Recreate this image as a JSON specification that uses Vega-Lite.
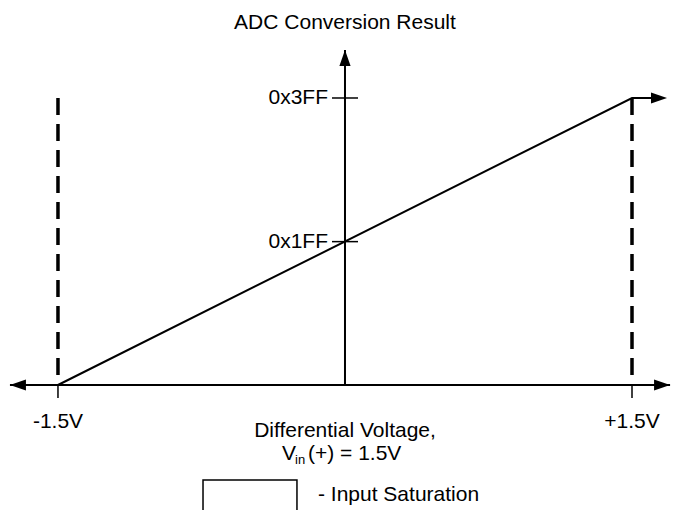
{
  "$schema": "https://vega.github.io/schema/vega-lite/v6.json",
  "width": 674,
  "height": 510,
  "padding": 0,
  "autosize": {"type": "fit", "contains": "padding"},
  "background": "white",
  "config": {"view": {"stroke": null}, "text": {"font": "Liberation Sans", "fontSize": 21, "color": "black"}},
  "datasets": {
    "hAxis": [{"x": -1.751, "x2": 1.699, "y": 0}],
    "vAxis": [{"x": 0, "y": 0, "y2": 1194}],
    "transfer": [{"x": -1.5, "y": 0, "o": 1}, {"x": 1.5, "y": 1023, "o": 2}, {"x": 1.66, "y": 1023, "o": 3}],
    "saturation": [{"x": -1.5, "y": 1023, "y2": 0}, {"x": 1.5, "y": 1023, "y2": 0}],
    "xTicks": [{"x": -1.5, "y": 0, "y2": -46}, {"x": 1.5, "y": 0, "y2": -46}],
    "yTicks": [{"x": -0.068, "x2": 0.068, "y": 1023, "label": "0x3FF"}, {"x": -0.068, "x2": 0.068, "y": 511, "label": "0x1FF"}],
    "arrows": [{"x": -1.751, "y": 0, "dir": "left"}, {"x": 1.699, "y": 0, "dir": "right"}, {"x": 1.683, "y": 1023, "dir": "right"}, {"x": 0, "y": 1194, "dir": "up"}],
    "xLabels": [{"x": -1.5, "y": 0, "label": "-1.5V"}, {"x": 1.5, "y": 0, "label": "+1.5V"}],
    "origin": [{"x": 0, "y": 0}],
    "top": [{"x": 0, "y": 1194}],
    "legendBox": [{"x": -0.742, "x2": -0.251, "y": -338.6, "y2": -480}]
  },
  "encoding": {
    "x": {"field": "x", "type": "quantitative", "scale": {"domain": [-1.803, 1.7195], "nice": false, "zero": false}, "axis": null},
    "y": {"field": "y", "type": "quantitative", "scale": {"domain": [-445.6, 1372.3], "nice": false, "zero": false}, "axis": null}
  },
  "layer": [
    {"data": {"name": "legendBox"}, "mark": {"type": "rect", "fill": "white", "stroke": "black", "strokeWidth": 1.5, "clip": true}, "encoding": {"x2": {"field": "x2"}, "y2": {"field": "y2"}}},
    {"data": {"name": "saturation"}, "mark": {"type": "rule", "color": "black", "strokeWidth": 3.5, "strokeDash": [17, 9]}, "encoding": {"y2": {"field": "y2"}}},
    {"data": {"name": "xTicks"}, "mark": {"type": "rule", "color": "black", "strokeWidth": 1.5}, "encoding": {"y2": {"field": "y2"}}},
    {"data": {"name": "hAxis"}, "mark": {"type": "rule", "color": "black", "strokeWidth": 2}, "encoding": {"x2": {"field": "x2"}}},
    {"data": {"name": "vAxis"}, "mark": {"type": "rule", "color": "black", "strokeWidth": 2}, "encoding": {"y2": {"field": "y2"}}},
    {"data": {"name": "transfer"}, "mark": {"type": "line", "color": "black", "strokeWidth": 2}, "encoding": {"order": {"field": "o"}}},
    {"data": {"name": "yTicks"}, "mark": {"type": "rule", "color": "black", "strokeWidth": 1.5}, "encoding": {"x2": {"field": "x2"}}},
    {"data": {"name": "yTicks"}, "mark": {"type": "text", "align": "right", "baseline": "middle", "dx": -4}, "encoding": {"text": {"field": "label"}}},
    {"data": {"name": "arrows"}, "mark": {"type": "point", "filled": true, "color": "black", "opacity": 1, "size": 256, "strokeWidth": 0},
     "encoding": {"shape": {"field": "dir", "type": "nominal", "legend": null, "scale": {"domain": ["left", "right", "up"], "range": ["M0,0L2,-0.7L2,0.7Z", "M0,0L-2,-0.7L-2,0.7Z", "M0,0L-0.7,2L0.7,2Z"]}}}},
    {"data": {"name": "xLabels"}, "mark": {"type": "text", "align": "center", "baseline": "alphabetic", "dy": 43}, "encoding": {"text": {"field": "label"}}},
    {"data": {"name": "top"}, "mark": {"type": "text", "align": "center", "baseline": "alphabetic", "dy": -21, "text": "ADC Conversion Result"}, "encoding": {}},
    {"data": {"name": "origin"}, "mark": {"type": "text", "align": "center", "baseline": "alphabetic", "dy": 52, "text": "Differential Voltage,"}, "encoding": {}},
    {"data": {"name": "origin"}, "mark": {"type": "text", "align": "left", "baseline": "alphabetic", "dx": -63, "dy": 75, "text": "V"}, "encoding": {}},
    {"data": {"name": "origin"}, "mark": {"type": "text", "align": "left", "baseline": "alphabetic", "dx": -50, "dy": 79, "fontSize": 13, "text": "in"}, "encoding": {}},
    {"data": {"name": "origin"}, "mark": {"type": "text", "align": "left", "baseline": "alphabetic", "dx": -37, "dy": 75, "text": "(+) = 1.5V"}, "encoding": {}},
    {"data": {"name": "origin"}, "mark": {"type": "text", "align": "left", "baseline": "alphabetic", "dx": -27, "dy": 116, "text": "- Input Saturation"}, "encoding": {}}
  ]
}
